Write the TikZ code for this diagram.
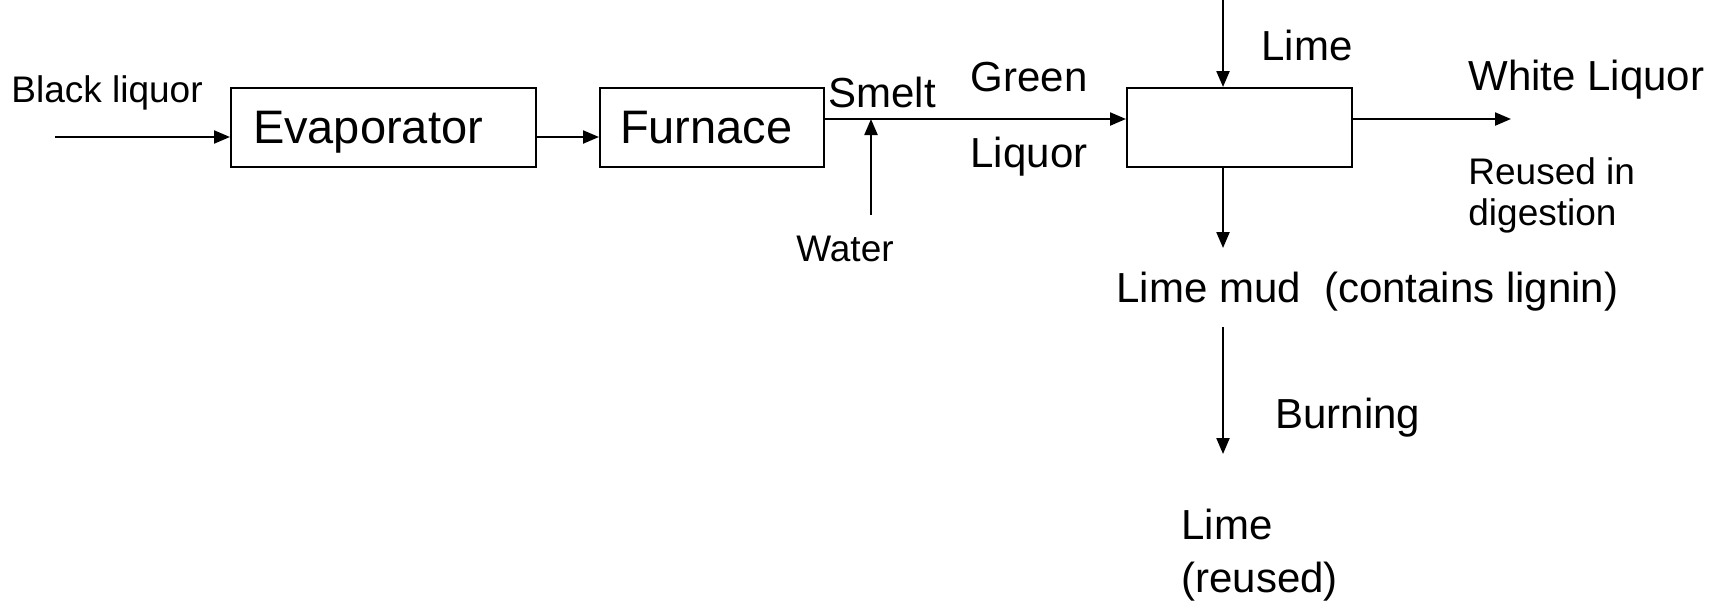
\documentclass[tikz,border=0pt]{standalone}
\usepackage{fontspec}
\setmainfont{Liberation Sans}
\usetikzlibrary{arrows.meta}
\begin{document}
\begin{tikzpicture}[x=0.5pt,y=-0.5pt,
  box/.style={draw, line width=1pt, inner sep=0pt, minimum height=39.5pt, text height=19pt, text depth=2.6pt},
  flow/.style={line width=1.1pt, -{Triangle[length=8pt,width=6.5pt]}},
  big/.style={font=\fontsize{23.5pt}{28pt}\selectfont},
  mid/.style={font=\fontsize{21pt}{26.5pt}\selectfont},
  small/.style={font=\fontsize{18.5pt}{20.5pt}\selectfont},
  lbl/.style={inner sep=0pt}]
\useasboundingbox (0,0) rectangle (1727,600);
% boxes
\node[box, big, minimum width=152.5pt, inner xsep=11pt, text width=130.5pt, align=left] (evap) at (383.5,127.5) {Evaporator};
\node[box, big, minimum width=112pt, inner xsep=10pt, text width=92pt, align=left] (furn) at (712,127.5) {Furnace};
\node[box, minimum width=112.5pt] (mix) at (1239.5,127.5) {};
% helper coordinates
\coordinate (by) at (0,137);
\coordinate (gy) at (0,119);
\coordinate (blk) at (55,137);
\coordinate (wat) at (871,215);
\coordinate (limetop) at (1223,0);
\coordinate (wl) at (1511,119);
\coordinate (mudend) at (1223,248);
\coordinate (burnstart) at (1223,327);
\coordinate (burnend) at (1223,454);
% connectors
\draw[flow] (blk) -- (evap.west |- blk);
\draw[flow] (evap.east |- by) -- (furn.west |- by);
\draw[flow] (furn.east |- gy) -- (mix.west |- gy);
\draw[flow] (wat) -- (wat |- gy);
\draw[flow] (limetop) -- (limetop |- mix.north);
\draw[flow] (mix.east |- gy) -- (wl);
\draw[flow] (limetop |- mix.south) -- (mudend);
\draw[flow] (burnstart) -- (burnend);
% labels
\node[lbl, small, anchor=west] (tblack) at (11,93) {Black liquor};
\node[lbl, mid] (tsmelt) at (882,92) {Smelt};
\node[lbl, small] (twater) at (845,249) {Water};
\node[lbl, mid] (tgreen) at (1029,77) {Green};
\node[lbl, mid] (tliquor) at (1029,157) {Liquor};
\node[lbl, mid, anchor=west] (tlime) at (1261,45) {Lime};
\node[lbl, mid, anchor=west] (twhite) at (1468,80) {White Liquor};
\node[lbl, small, anchor=west, align=left] (treused) at (1468,195) {Reused in\\digestion};
\node[lbl, mid, anchor=west] (tmud) at (1116,292) {Lime mud\ \ (contains lignin)};
\node[lbl, mid, anchor=west] (tburn) at (1275,418) {Burning};
\node[lbl, mid, anchor=west, align=left] (tlime2) at (1181,555) {Lime\\(reused)};
\end{tikzpicture}
\end{document}
